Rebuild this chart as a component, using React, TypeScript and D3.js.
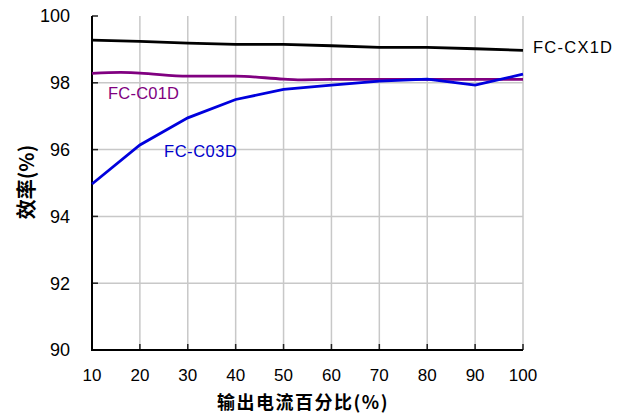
import React from "react";
import * as d3 from "d3";

const xTicks = [10, 20, 30, 40, 50, 60, 70, 80, 90, 100];
const yTicks = [90, 92, 94, 96, 98, 100];

const cx1dX = [10, 20, 30, 40, 50, 60, 70, 80, 90, 100];
const cx1dY = [99.28, 99.24, 99.19, 99.15, 99.15, 99.11, 99.06, 99.06, 99.02, 98.97];

const c01dX = [10, 16, 20, 30, 40, 50, 53, 60, 70, 80, 90, 100];
const c01dY = [98.28, 98.31, 98.29, 98.2, 98.2, 98.11, 98.09, 98.1, 98.1, 98.1, 98.1, 98.1];

const c03dX = [10, 20, 30, 40, 50, 60, 70, 80, 90, 100];
const c03dY = [94.97, 96.14, 96.95, 97.5, 97.8, 97.93, 98.05, 98.11, 97.93, 98.26];

const W = 620, H = 414;
const left = 92, right = 523, top = 16, bottom = 350;

export default function App() {
  const x = d3.scaleLinear().domain([10, 100]).range([left, right]);
  const y = d3.scaleLinear().domain([90, 100]).range([bottom, top]);
  const straight = d3.line<[number, number]>().x(d => x(d[0])).y(d => y(d[1]));
  const smooth = d3.line<[number, number]>().x(d => x(d[0])).y(d => y(d[1])).curve(d3.curveMonotoneX);
  const zip = (a: number[], b: number[]) => a.map((v, i) => [v, b[i]] as [number, number]);
  const font = "'Liberation Sans', 'DejaVu Sans', sans-serif";
  const cjk = "'Noto Sans CJK SC', sans-serif";
  return (
    <svg width={W} height={H} style={{ position: "absolute", left: 0, top: 0, background: "#fff" }}>
      {xTicks.slice(1).map(t => (
        <line key={"vx" + t} x1={x(t)} x2={x(t)} y1={top} y2={bottom} stroke="#c8c8c8" strokeWidth={1.5} />
      ))}
      {yTicks.slice(1, -1).map(t => (
        <line key={"hy" + t} x1={left} x2={right} y1={y(t)} y2={y(t)} stroke="#c8c8c8" strokeWidth={1.5} />
      ))}
      {xTicks.slice(1).map(t => (
        <line key={"tx" + t} x1={x(t)} x2={x(t)} y1={bottom} y2={bottom - 6} stroke="#222" strokeWidth={1.5} />
      ))}
      {yTicks.slice(1).map(t => (
        <line key={"ty" + t} x1={left} x2={left + 6} y1={y(t)} y2={y(t)} stroke="#222" strokeWidth={1.5} />
      ))}
      <line x1={left} x2={left} y1={top} y2={bottom + 1} stroke="#000" strokeWidth={2} />
      <line x1={left - 1} x2={right} y1={bottom} y2={bottom} stroke="#000" strokeWidth={2} />
      <path d={straight(zip(cx1dX, cx1dY)) || ""} fill="none" stroke="#000" strokeWidth={2.8} />
      <path d={smooth(zip(c01dX, c01dY)) || ""} fill="none" stroke="#800080" strokeWidth={2.8} />
      <path d={straight(zip(c03dX, c03dY)) || ""} fill="none" stroke="#0000dd" strokeWidth={2.8} />
      {yTicks.map(t => (
        <text key={"yl" + t} x={70} y={y(t)} dy="0.36em" textAnchor="end" fontFamily={font} fontSize={18} fill="#000">{t}</text>
      ))}
      {xTicks.map(t => (
        <text key={"xl" + t} x={x(t)} y={381} textAnchor="middle" fontFamily={font} fontSize={17} fill="#000">{t}</text>
      ))}
      <text x={533} y={53} fontFamily={font} fontSize={16.5} textLength={79} lengthAdjust="spacing" fill="#000">FC-CX1D</text>
      <text x={108} y={99} fontFamily={font} fontSize={16.5} textLength={71} lengthAdjust="spacing" fill="#800080">FC-C01D</text>
      <text x={164} y={157} fontFamily={font} fontSize={16.5} textLength={73} lengthAdjust="spacing" fill="#0000cc">FC-C03D</text>
      <text x={303} y={409} textAnchor="middle" fontFamily={cjk} fontWeight="bold" fontSize={18} letterSpacing={1.5} fill="#000">输出电流百分比(%)</text>
      <text transform="translate(34,182) rotate(-90)" textAnchor="middle" fontFamily={cjk} fontWeight="bold" fontSize={20} fill="#000">效率(%)</text>
    </svg>
  );
}
